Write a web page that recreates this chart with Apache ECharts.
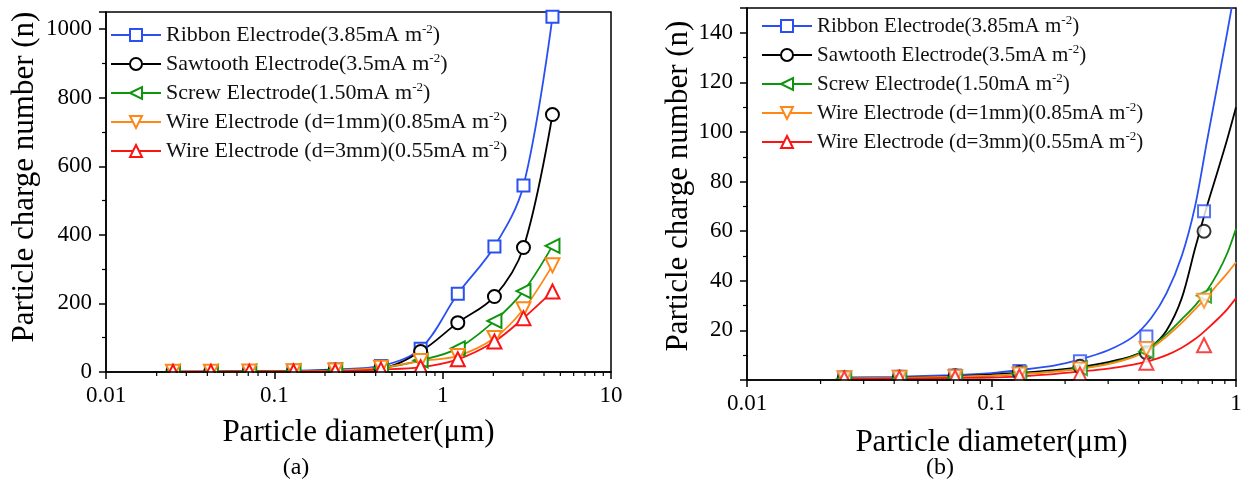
<!DOCTYPE html>
<html>
<head>
<meta charset="utf-8">
<title>Particle charge number vs particle diameter</title>
<script src="https://cdn.jsdelivr.net/npm/echarts@6/dist/echarts.min.js"></script>
<style>
  html, body { margin: 0; padding: 0; background: #fff; }
  #chart { width: 1242px; height: 490px; }
</style>
</head>
<body>
<div id="chart"></div>
<script>
// Measured particle diameters (µm)
const diameters = [0.025, 0.042, 0.071, 0.13, 0.23, 0.43, 0.74, 1.23, 2.03, 3.02, 4.49];

// Measured charge numbers for each electrode type
const ribbon   = [1.0, 1.3, 1.8, 3.6, 7.6, 17.5, 68, 228, 366, 544, 1036];
const sawtooth = [0.9, 1.2, 1.7, 3.0, 5.5, 11.0, 60, 144, 220, 363, 751];
const screw    = [0.5, 0.6, 0.9, 2.6, 4.8, 11.5, 34, 69, 149, 236, 368];
const wire1mm  = [0.7, 0.9, 1.2, 2.2, 4.2, 12.5, 32, 47, 99, 183, 311];
const wire3mm  = [0.6, 0.8, 1.0, 1.4, 2.2, 7.0, 14, 37, 89, 157, 235];

// Fitted curves for the sub-micron range
const fitDiameters = [0.025, 0.04, 0.07, 0.1, 0.13, 0.18, 0.23, 0.3, 0.38, 0.45, 0.52, 0.6, 0.68, 0.76, 0.84, 0.92, 1.0];
const fitRibbon   = [1.0, 1.3, 2.0, 2.8, 4.0, 5.8, 8.3, 12.0, 17.5, 25.0, 35.0, 50.0, 70.0, 96.0, 119.0, 140.0, 160.0];
const fitSawtooth = [0.7, 0.9, 1.5, 2.2, 2.9, 4.0, 5.2, 7.2, 9.8, 13.5, 20.0, 33.0, 53.0, 70.0, 84.0, 97.0, 110.0];
const fitScrew    = [0.5, 0.7, 1.2, 1.8, 2.4, 3.5, 4.7, 6.6, 9.5, 13.5, 18.5, 24.5, 30.0, 36.0, 43.0, 51.0, 61.0];
const fitWire1mm  = [0.6, 0.8, 1.3, 1.8, 2.4, 3.4, 4.5, 6.4, 9.2, 12.8, 17.5, 23.0, 28.5, 33.5, 38.5, 43.0, 47.5];
const fitWire3mm  = [0.3, 0.5, 0.8, 1.0, 1.5, 2.4, 3.4, 4.6, 6.2, 7.9, 10.0, 13.0, 16.5, 20.5, 24.5, 28.5, 33.0];

// Log-axis minor tick positions (2..9 in each decade)
const minorTicksA = [0.02, 0.03, 0.04, 0.05, 0.06, 0.07, 0.08, 0.09,
                     0.2, 0.3, 0.4, 0.5, 0.6, 0.7, 0.8, 0.9,
                     2, 3, 4, 5, 6, 7, 8, 9];
const minorTicksB = [0.02, 0.03, 0.04, 0.05, 0.06, 0.07, 0.08, 0.09,
                     0.2, 0.3, 0.4, 0.5, 0.6, 0.7, 0.8, 0.9];

const seriesNames = [
  'Ribbon Electrode(3.85mA m-2)',
  'Sawtooth Electrode(3.5mA m-2)',
  'Screw Electrode(1.50mA m-2)',
  'Wire Electrode (d=1mm)(0.85mA m-2)',
  'Wire Electrode (d=3mm)(0.55mA m-2)'
];

const measured = [ribbon, sawtooth, screw, wire1mm, wire3mm];
const fitted = [fitRibbon, fitSawtooth, fitScrew, fitWire1mm, fitWire3mm];

const colors = ['#2a4ff2', '#000000', '#0d960d', '#ff8717', '#fa1414'];
const symbols = ['emptyRect', 'emptyCircle', 'emptyTriangle', 'emptyTriangle', 'emptyTriangle'];
const symbolRotations = [0, 0, 90, 180, 0];
const symbolSizes = [12, 13, 14, 14, 14];

const SERIF = '"Liberation Serif", "Times New Roman", serif';

// Plot rectangles of the two panels
const gridA = { left: 106, top: 12, width: 505, height: 360 };
const gridB = { left: 747, top: 8, width: 489, height: 372 };

function pairs(xs, ys) {
  return xs.map((x, i) => [x, ys[i]]);
}

// "m-2" is shown with the exponent raised
function legendLabel(name) {
  const i = name.lastIndexOf('m-2');
  return '{n|' + name.slice(0, i + 1) + '}{sup|-2}{n|' + name.slice(i + 3) + '}';
}

function legendFor(left, top, fontSize) {
  return {
    orient: 'vertical',
    left: left,
    top: top,
    itemWidth: 50,
    itemHeight: 15,
    itemGap: 5,
    padding: 0,
    data: seriesNames,
    selectedMode: false,
    formatter: legendLabel,
    textStyle: {
      fontFamily: SERIF,
      fontSize: fontSize,
      lineHeight: 24,
      color: '#111',
      rich: {
        n: { fontFamily: SERIF, fontSize: fontSize, lineHeight: 24, color: '#111' },
        sup: { fontFamily: SERIF, fontSize: 13, lineHeight: 13, verticalAlign: 'top', color: '#111' }
      }
    }
  };
}

function xAxisFor(gridIndex, max, nameGap) {
  return {
    gridIndex: gridIndex,
    type: 'log',
    logBase: 10,
    min: 0.01,
    max: max,
    z: 6,
    axisLine: { show: true, onZero: false, lineStyle: { color: '#000', width: 1.5 } },
    axisTick: { show: true, inside: false, length: 7, lineStyle: { color: '#000', width: 1.5 } },
    axisLabel: { color: '#000', fontFamily: SERIF, fontSize: 23, margin: 12 },
    splitLine: { show: false },
    name: 'Particle diameter(μm)',
    nameLocation: 'middle',
    nameGap: nameGap,
    nameTextStyle: { fontFamily: SERIF, fontSize: 31, color: '#000' }
  };
}

function yAxisFor(gridIndex, max, interval, nameGap, shiftPad, hideZero) {
  return {
    gridIndex: gridIndex,
    type: 'value',
    min: 0,
    max: max,
    interval: interval,
    z: 6,
    axisLine: { show: true, onZero: false, lineStyle: { color: '#000', width: 1.5 } },
    axisTick: { show: true, inside: false, length: 7, lineStyle: { color: '#000', width: 1.5 } },
    minorTick: { show: true, splitNumber: 2, length: 4, lineStyle: { color: '#000', width: 1.2 } },
    axisLabel: {
      color: '#000', fontFamily: SERIF, fontSize: 23, margin: 14,
      showMaxLabel: false,
      formatter: function (v) {
        if (v > max - interval / 2 && v % interval !== 0) return '';
        if (hideZero && v === 0) return '';
        return String(v);
      }
    },
    splitLine: { show: false },
    minorSplitLine: { show: false },
    name: 'Particle charge number (n)',
    nameLocation: 'middle',
    nameGap: nameGap,
    nameTextStyle: { fontFamily: SERIF, fontSize: 31, color: '#000', padding: [0, 0, 0, shiftPad] }
  };
}

function minorTickSeries(xAxisIndex, yAxisIndex, ticks) {
  return {
    type: 'custom',
    name: 'minor-ticks',
    xAxisIndex: xAxisIndex,
    yAxisIndex: yAxisIndex,
    silent: true,
    clip: false,
    z: 7,
    data: ticks.map(v => [v, 0]),
    renderItem: function (params, api) {
      const p = api.coord([api.value(0), api.value(1)]);
      return {
        type: 'line',
        shape: { x1: p[0], y1: p[1], x2: p[0], y2: p[1] + 4 },
        style: { stroke: '#000', lineWidth: 1.2 }
      };
    }
  };
}

const series = [];

// Panel (a): measured points joined by smooth lines
seriesNames.forEach((name, k) => {
  series.push({
    type: 'line',
    name: name,
    xAxisIndex: 0,
    yAxisIndex: 0,
    data: pairs(diameters, measured[k]),
    smooth: 0.35,
    symbol: symbols[k],
    symbolSize: symbolSizes[k],
    symbolRotate: symbolRotations[k],
    showAllSymbol: true,
    lineStyle: { color: colors[k], width: 1.8 },
    itemStyle: { color: colors[k], borderWidth: 2 },
    z: 3
  });
});

// Panel (b): fitted curves
seriesNames.forEach((name, k) => {
  series.push({
    type: 'line',
    name: name,
    xAxisIndex: 1,
    yAxisIndex: 1,
    data: pairs(fitDiameters, fitted[k]),
    smooth: 0.3,
    symbol: 'none',
    showSymbol: false,
    lineStyle: { color: colors[k], width: 1.8 },
    itemStyle: { color: colors[k] },
    z: 2
  });
});

// Panel (b): measured points
seriesNames.forEach((name, k) => {
  series.push({
    type: 'scatter',
    name: name,
    xAxisIndex: 1,
    yAxisIndex: 1,
    data: pairs(diameters, measured[k]),
    symbol: symbols[k],
    symbolSize: symbolSizes[k],
    symbolRotate: symbolRotations[k],
    itemStyle: { color: colors[k], borderWidth: 2 },
    z: 3
  });
});

series.push(minorTickSeries(0, 0, minorTicksA));
series.push(minorTickSeries(1, 1, minorTicksB));

// White strips under each plot area so markers sitting on the baseline are cut off there
function baselineMask(g) {
  return {
    type: 'rect',
    z: 4,
    silent: true,
    shape: { x: g.left + 1, y: g.top + g.height + 1, width: g.width - 1, height: 10 },
    style: { fill: '#fff' }
  };
}

function caption(text, x, y) {
  return {
    type: 'text',
    z: 10,
    x: x,
    y: y,
    style: {
      text: text,
      font: '24px ' + SERIF,
      fill: '#000',
      align: 'center',
      verticalAlign: 'middle',
      textAlign: 'center',
      textVerticalAlign: 'middle'
    }
  };
}

const option = {
  backgroundColor: '#fff',
  animation: false,
  textStyle: { fontFamily: SERIF },
  grid: [
    Object.assign({ show: true, borderColor: '#000', borderWidth: 1.5, containLabel: false, outerBoundsMode: 'none' }, gridA),
    Object.assign({ show: true, borderColor: '#000', borderWidth: 1.5, containLabel: false, outerBoundsMode: 'none' }, gridB)
  ],
  legend: [legendFor(110, 23, 22), legendFor(761, 14, 21)],
  xAxis: [xAxisFor(0, 10, 45), xAxisFor(1, 1, 47)],
  yAxis: [
    yAxisFor(0, 1050, 200, 66, 30, false),
    yAxisFor(1, 150, 20, 46, 16, true)
  ],
  series: series,
  graphic: [
    baselineMask(gridA),
    baselineMask(gridB),
    caption('(a)', 296, 468),
    caption('(b)', 940, 468)
  ]
};

const chart = echarts.init(document.getElementById('chart'), null, { renderer: 'canvas' });
chart.setOption(option);
</script>
</body>
</html>
